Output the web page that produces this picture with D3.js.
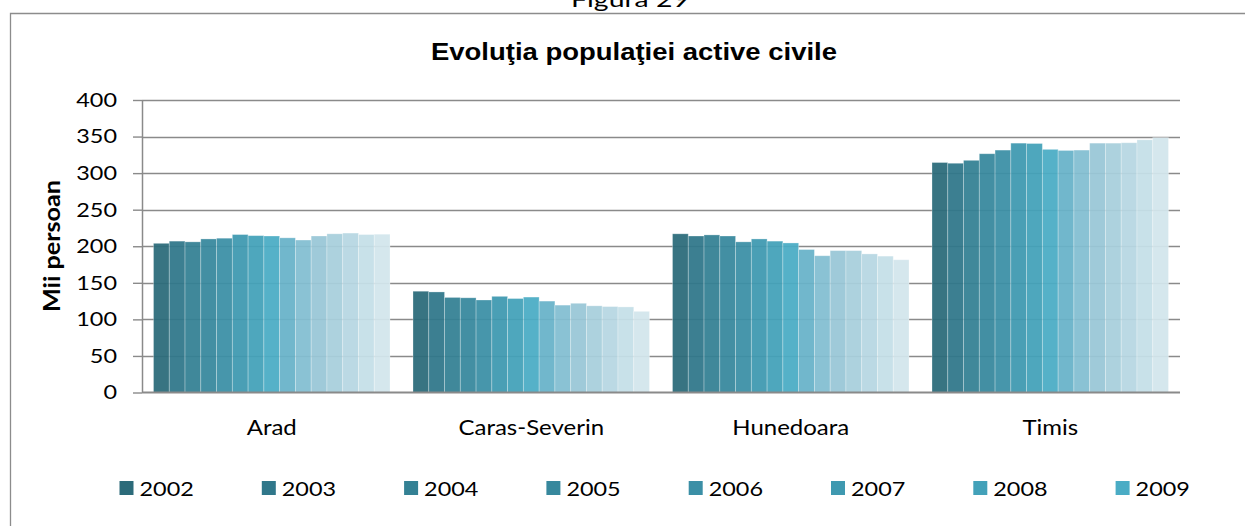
<!DOCTYPE html>
<html>
<head>
<meta charset="utf-8">
<script src="https://cdn.jsdelivr.net/npm/d3@7"></script>
<style>
  body { margin: 0; background: #fff; }
  svg { display: block; }
</style>
</head>
<body>
<svg width="1245" height="526"></svg>
<script>
document.addEventListener('DOMContentLoaded', function() {

const categories = ["Arad", "Caras-Severin", "Hunedoara", "Timis"];
const years = ["2002", "2003", "2004", "2005", "2006", "2007", "2008", "2009",
               "2010", "2011", "2012", "2013", "2014", "2015", "2016"];
// only the first eight years are shown in the legend
const legendYears = years.slice(0, 8);

const arad         = [204, 207, 206, 210, 211, 216, 214.5, 214, 211.5, 208.5, 214, 217, 218, 216, 216.5];
const carasSeverin = [138.5, 137.5, 130, 129.5, 126.5, 131.5, 128.5, 130.5, 125, 119.5, 122, 118.5, 117.5, 117, 111];
const hunedoara    = [217, 214, 215.5, 214, 206, 210, 207, 204.5, 195.5, 187, 194, 194, 189.5, 186.5, 181.5];
const timis        = [314.5, 313.5, 317.5, 326.5, 331.5, 341, 340.5, 332.5, 331, 331.5, 341, 341, 341.5, 345.5, 348.5];
const seriesByCategory = [arad, carasSeverin, hunedoara, timis];

const yTicks = [0, 50, 100, 150, 200, 250, 300, 350, 400];

const palette = ["#2c6b7a", "#30778a", "#348194", "#37889d", "#3b8fa6", "#3f99b0", "#43a1b9", "#4aacc5",
                 "#68b3c9", "#83bed1", "#99c7d7", "#a8cfdc", "#b7d7e2", "#c5dfe8", "#d2e5ec"];

const svg = d3.select("svg");
const fontTxt = "Lato, 'Open Sans', sans-serif";

// widen a text selection a bit (the original is drawn with a wider font)
function widen(sel, k) {
    sel.each(function() {
        const len = this.getComputedTextLength();
        d3.select(this).attr("textLength", len * k).attr("lengthAdjust", "spacingAndGlyphs");
    });
}

// outer frame + caption
svg.append("text")
    .attr("x", 630).attr("y", 7)
    .attr("text-anchor", "middle")
    .attr("font-family", fontTxt).attr("font-size", 22)
    .text("Figura 29")
    .attr("textLength", 118).attr("lengthAdjust", "spacingAndGlyphs");
svg.append("path")
    .attr("d", "M10.5,526V13.5H1245")
    .attr("fill", "none")
    .attr("stroke", "#8c8c8c")
    .attr("stroke-width", 1.3);

svg.append("text")
    .attr("x", 634).attr("y", 60)
    .attr("text-anchor", "middle")
    .attr("font-family", "'Liberation Sans', Arial, sans-serif")
    .attr("font-weight", "bold").attr("font-size", 23)
    .text("Evoluţia populaţiei active civile")
    .attr("textLength", 406).attr("lengthAdjust", "spacingAndGlyphs");

const plotLeft = 142, plotRight = 1180;

const y = d3.scaleLinear().domain([0, 400]).range([392.5, 100]);
const x0 = d3.scaleBand().domain(categories).range([plotLeft, plotRight])
    .paddingInner(0.0886).paddingOuter(0.0443);
const x1 = d3.scaleBand().domain(years).range([0, x0.bandwidth()]);
const color = d3.scaleOrdinal().domain(years).range(palette);

// gridlines
svg.append("g")
    .selectAll("line")
    .data(yTicks.filter(d => d > 0))
    .enter().append("line")
    .attr("x1", plotLeft).attr("x2", plotRight)
    .attr("y1", d => Math.round(y(d)) + 0.5)
    .attr("y2", d => Math.round(y(d)) + 0.5)
    .attr("stroke", "#8a8a8a")
    .attr("stroke-width", 1.4);

// bars
const groups = svg.append("g")
    .selectAll("g")
    .data(categories)
    .enter().append("g")
    .attr("transform", d => `translate(${x0(d)},0)`);

groups.selectAll("rect")
    .data((c, i) => years.map((yr, j) => ({ year: yr, value: seriesByCategory[i][j] })))
    .enter().append("rect")
    .attr("x", d => x1(d.year))
    .attr("y", d => y(d.value))
    .attr("width", x1.bandwidth())
    .attr("height", d => y(0) - y(d.value))
    .attr("fill", d => color(d.year))
    .attr("fill-opacity", 0.94)
    .attr("stroke", "rgba(255,255,255,0.35)")
    .attr("stroke-width", 0.8);

// y axis
const yAxis = svg.append("g")
    .attr("transform", `translate(${plotLeft},0)`)
    .call(d3.axisLeft(y).tickValues(yTicks).tickSize(9).tickSizeOuter(0).tickPadding(16));
yAxis.select(".domain").attr("stroke", "#8a8a8a").attr("stroke-width", 1.5);
yAxis.selectAll(".tick line").attr("stroke", "#8a8a8a").attr("stroke-width", 1.4);
yAxis.selectAll(".tick text")
    .attr("font-family", fontTxt).attr("font-size", 20).attr("fill", "#000")
    .call(widen, 1.17);

// x axis
const xAxis = svg.append("g")
    .attr("transform", `translate(0,${y(0)})`)
    .call(d3.axisBottom(x0).tickSize(0).tickPadding(28));
xAxis.select(".domain").attr("stroke", "#8a8a8a").attr("stroke-width", 1.8)
    .attr("d", `M${plotLeft},0H${plotRight}`);
xAxis.selectAll(".tick text")
    .attr("font-family", fontTxt).attr("font-size", 20.5).attr("fill", "#000")
    .call(widen, 1.17);

// y axis title
svg.append("text")
    .attr("transform", "translate(60,246) rotate(-90)")
    .attr("text-anchor", "middle")
    .attr("font-family", fontTxt).attr("font-weight", "bold").attr("font-size", 22)
    .text("Mii persoan")
    .attr("textLength", 132).attr("lengthAdjust", "spacingAndGlyphs");

// legend
const legend = svg.append("g")
    .selectAll("g")
    .data(legendYears)
    .enter().append("g")
    .attr("transform", (d, i) => `translate(${119.5 + i * 142.3},488)`);
legend.append("rect")
    .attr("x", 0).attr("y", -7)
    .attr("width", 14).attr("height", 14)
    .attr("fill", d => color(d));
legend.append("text")
    .attr("x", 20).attr("y", 7.5)
    .attr("font-family", fontTxt).attr("font-size", 20)
    .text(d => d)
    .call(widen, 1.17);

});
</script>
</body>
</html>
